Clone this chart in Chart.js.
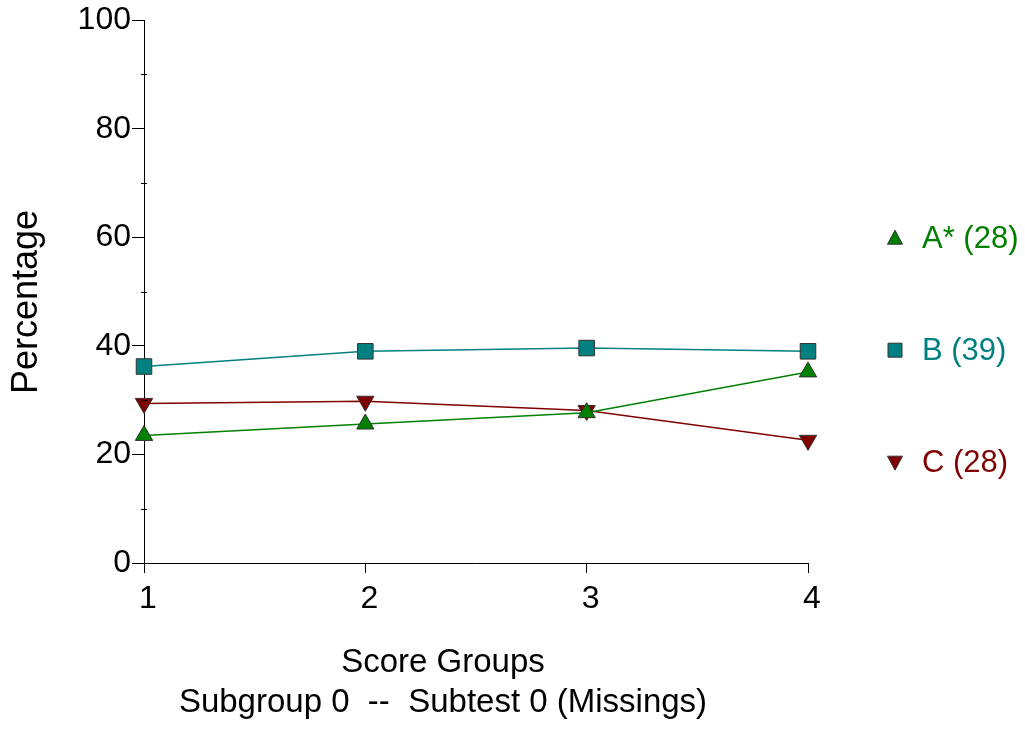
<!DOCTYPE html>
<html>
<head>
<meta charset="utf-8">
<script src="https://cdn.jsdelivr.net/npm/chart.js@4/dist/chart.umd.min.js"></script>
<style>
body{margin:0;background:#fff}
#wrap{position:relative;width:1025px;height:729px}
</style>
</head>
<body>
<div id="wrap"><canvas id="chart"></canvas></div>
<script>
var scoreGroups=[1,2,3,4]
var seriesA=[23.5,25.6,27.7,35.2]
var seriesB=[36.2,39.0,39.6,39.0]
var seriesC=[29.4,29.8,28.1,22.6]
var seriesNames=['A* (28)','B (39)','C (28)']
var seriesColors=['#008000','#008080','#800000']
var markerStyles=['triangle','rect','triangle']
var markerRotations=[0,0,180]
var yTicks=[0,20,40,60,80,100]
var xTitle=['Score Groups','Subgroup 0  --  Subtest 0 (Missings)']
var yTitle='Percentage'

var fontFam='"Liberation Sans", Arial, sans-serif'
Chart.defaults.font.family=fontFam
Chart.defaults.color='#000'

function toPoints(vals){
    return vals.map((v,i)=>({x:scoreGroups[i],y:v}))
}

// minor ticks, axis titles and the legend on the right
const extras={
    id:'extras',
    afterDraw(chart){
        const ctx=chart.ctx, ys=chart.scales.y, xs=chart.scales.x
        ctx.save()
        ctx.strokeStyle='#000'
        ctx.lineWidth=1
        for(let v=10;v<100;v+=20){
            const py=Math.round(ys.getPixelForValue(v))+0.5
            ctx.beginPath(); ctx.moveTo(xs.left-3,py); ctx.lineTo(xs.left+3,py); ctx.stroke()
        }

        ctx.fillStyle='#000'
        ctx.textAlign='center'
        ctx.textBaseline='middle'
        ctx.font='33px '+fontFam
        ctx.fillText(xTitle[0],443,663)
        ctx.fillText(xTitle[1],443,703)

        ctx.save()
        ctx.translate(27,302)
        ctx.rotate(-Math.PI/2)
        ctx.font='36px '+fontFam
        ctx.fillText(yTitle,0,0)
        ctx.restore()

        const top=chart.chartArea.top
        seriesNames.forEach((name,i)=>{
            const cy=top+218+i*112, cx=895
            ctx.fillStyle=seriesColors[i]
            ctx.strokeStyle='#333'
            ctx.beginPath()
            if(markerStyles[i]=='rect'){
                ctx.rect(cx-7,cy-7,14,14)
            }else if(markerRotations[i]==0){
                ctx.moveTo(cx,cy-8); ctx.lineTo(cx+7.5,cy+6); ctx.lineTo(cx-7.5,cy+6); ctx.closePath()
            }else{
                ctx.moveTo(cx,cy+8); ctx.lineTo(cx+7.5,cy-6); ctx.lineTo(cx-7.5,cy-6); ctx.closePath()
            }
            ctx.fill(); ctx.stroke()
            ctx.font='31px '+fontFam
            ctx.textAlign='left'
            ctx.fillText(name,cx+27,cy+1)
        })
        ctx.restore()
    }
}

const allSeries=[seriesA,seriesB,seriesC]

const config={
    type:'line',
    data:{
        datasets:allSeries.map((s,i)=>({
            label:seriesNames[i],
            data:toPoints(s),
            borderColor:seriesColors[i],
            backgroundColor:seriesColors[i],
            borderWidth:1.5,
            pointStyle:markerStyles[i],
            pointRotation:markerRotations[i],
            pointRadius:markerStyles[i]=='rect'?11:10,
            pointBorderColor:'#333',
            pointBorderWidth:1,
            tension:0,
            clip:false
        }))
    },
    plugins:[extras],
    options:{
        responsive:false,
        animation:false,
        layout:{padding:{left:0,right:217,top:20,bottom:0}},
        plugins:{legend:{display:false},tooltip:{enabled:false}},
        scales:{
            x:{
                type:'linear',
                min:1,max:4,
                afterBuildTicks(s){ s.ticks=scoreGroups.map(v=>({value:v})) },
                ticks:{font:{size:32},color:'#000',padding:7,labelOffset:4},
                grid:{drawOnChartArea:false,tickLength:10,tickColor:'#000'},
                border:{color:'#000',width:1},
                afterFit(s){ s.height=166 }
            },
            y:{
                min:0,max:100,
                afterBuildTicks(s){ s.ticks=yTicks.map(v=>({value:v})) },
                ticks:{font:{size:32},color:'#000',padding:1},
                grid:{drawOnChartArea:false,tickLength:12,tickColor:'#000'},
                border:{color:'#000',width:1},
                afterFit(s){ s.width=144 }
            }
        }
    }
}

const canvas=document.getElementById('chart')
canvas.width=1025
canvas.height=729
new Chart(canvas,config)
</script>
</body>
</html>
